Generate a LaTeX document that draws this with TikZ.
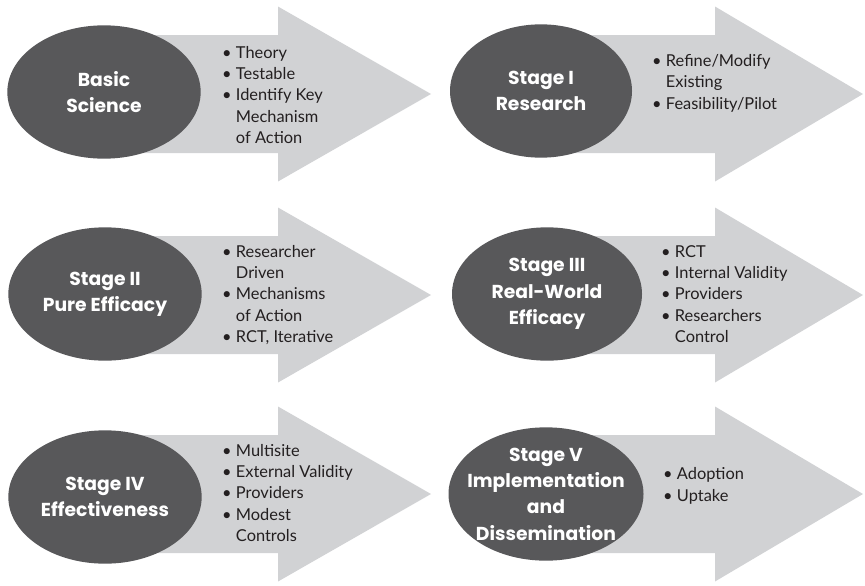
\documentclass[tikz,border=0pt]{standalone}
\usepackage{fontspec}
\setmainfont{Lato}
\newfontfamily\titlefont{Poppins}
\usetikzlibrary{positioning,shapes.geometric,backgrounds}
\definecolor{darkoval}{HTML}{58585A}
\definecolor{lightarrow}{HTML}{D1D2D4}
\definecolor{inktext}{HTML}{231F20}
\newcommand{\itm}{\textbullet\ }
\newcommand{\cnt}{\phantom{\textbullet}\ }

\begin{document}
\begin{tikzpicture}[
  x=0.03cm, y=0.03cm,
  oval/.style={ellipse, fill=darkoval, minimum width=5.8cm, minimum height=4cm, inner sep=0pt},
  title/.style={text=white, inner sep=0pt, align=center, font=\titlefont\fontsize{16}{22.5}\selectfont\bfseries},
  points/.style={anchor=west, align=left, text=inktext, inner sep=0pt, font=\fontsize{14}{18.3}\selectfont},
  bigarrow/.style={fill=lightarrow}
]
\useasboundingbox (0,0) rectangle (865,-586);

% stage ovals
\node[oval] (basic) at (104,-92) {};
\node[oval, minimum width=5.46cm] (stage1) at (541,-91) {};
\node[oval] (stage2) at (105,-294) {};
\node[oval, minimum width=5.7cm] (stage3) at (547,-294) {};
\node[oval] (stage4) at (105,-497) {};
\node[oval, minimum width=5.85cm] (stage5) at (546,-494) {};

% titles inside the ovals
\node[title] (basictitle) at (basic) {Basic\\Science};
\node[title] (stage1title) at (stage1) {Stage I\\Research};
\node[title] (stage2title) at (stage2) {Stage II\\Pure Efficacy};
\node[title] (stage3title) at (stage3) {Stage III\\Real-World\\Efficacy};
\node[title] (stage4title) at (stage4) {Stage IV\\Effectiveness};
\node[title] (stage5title) at (stage5) {Stage V\\Implementation\\and\\Dissemination};

% bullet lists
\node[points] (basicpts) at (222,-95) {\itm Theory\\\itm Testable\\\itm Identify Key\\\cnt Mechanism\\\cnt of Action};
\node[points] (stage1pts) at (652,-83) {\itm Refine/Modify\\\cnt Existing\\\itm Feasibility/Pilot};
\node[points] (stage2pts) at (222,-295) {\itm Researcher\\\cnt Driven\\\itm Mechanisms\\\cnt of Action\\\itm RCT, Iterative};
\node[points] (stage3pts) at (661,-294) {\itm RCT\\\itm Internal Validity\\\itm Providers\\\itm Researchers\\\cnt Control};
\node[points] (stage4pts) at (222,-493) {\itm Multisite\\\itm External Validity\\\itm Providers\\\itm Modest\\\cnt Controls};
\node[points] (stage5pts) at (663,-486) {\itm Adoption\\\itm Uptake};

% big arrows behind
\begin{scope}[on background layer]
\fill[bigarrow] (104,-35) -- (278,-35) -- (278,-6.5) -- (431,-94) -- (278,-181.5) -- (278,-153) -- (104,-153) -- cycle;
\fill[bigarrow] (545,-35) -- (715,-35) -- (715,-6.5) -- (863,-94) -- (715,-181.5) -- (715,-153) -- (545,-153) -- cycle;
\fill[bigarrow] (104,-236) -- (278,-236) -- (278,-207.5) -- (431,-295) -- (278,-382.5) -- (278,-354) -- (104,-354) -- cycle;
\fill[bigarrow] (545,-236) -- (715,-236) -- (715,-207.5) -- (863,-295) -- (715,-382.5) -- (715,-354) -- (545,-354) -- cycle;
\fill[bigarrow] (104,-435) -- (278,-435) -- (278,-406.5) -- (431,-494) -- (278,-581.5) -- (278,-553) -- (104,-553) -- cycle;
\fill[bigarrow] (545,-435) -- (715,-435) -- (715,-406.5) -- (863,-494) -- (715,-581.5) -- (715,-553) -- (545,-553) -- cycle;
\end{scope}

\end{tikzpicture}
\end{document}
